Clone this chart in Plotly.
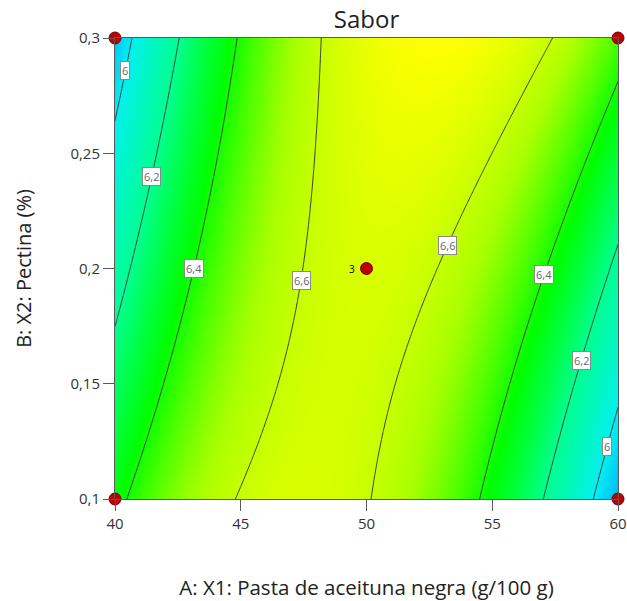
import numpy as np
import plotly.graph_objects as go

# Fitted quadratic model for Sabor in coded factors
# A = (X1 - 50) / 10,  B = (X2 - 0.2) / 0.1
coef_names = ["b0", "A", "B", "AB", "A2", "B2"]
coef_values = [6.634, 0.0135, 0.0295, 0.2535, -0.477, 0.0]

# Factor ranges
x1_range = [40, 60]
x2_range = [0.1, 0.3]

# Design points (factorial corners + centre replicates)
design_x1 = [40, 60, 40, 60, 50]
design_x2 = [0.1, 0.1, 0.3, 0.3, 0.2]
design_reps = [1, 1, 1, 1, 3]

# Contour levels and where their labels sit (X2 value, branch side)
label_levels = [6.0, 6.2, 6.4, 6.6, 6.6, 6.4, 6.2, 6.0]
label_x2 = [0.2857, 0.240, 0.2002, 0.195, 0.210, 0.1976, 0.160, 0.1226]
label_side = ["left", "left", "left", "left", "right", "right", "right", "right"]

C = dict(zip(coef_names, coef_values))


def model(x1, x2):
    a = (x1 - 50) / 10
    b = (x2 - 0.2) / 0.1
    return (C["b0"] + C["A"] * a + C["B"] * b + C["AB"] * a * b
            + C["A2"] * a ** 2 + C["B2"] * b ** 2)


def solve_x1(level, x2, side):
    b = (x2 - 0.2) / 0.1
    qa = C["A2"]
    qb = C["A"] + C["AB"] * b
    qc = C["b0"] + C["B"] * b + C["B2"] * b ** 2 - level
    disc = np.sqrt(qb ** 2 - 4 * qa * qc)
    roots = sorted([(-qb + disc) / (2 * qa), (-qb - disc) / (2 * qa)])
    a = roots[0] if side == "left" else roots[1]
    return 50 + 10 * a


gx = np.linspace(x1_range[0], x1_range[1], 241)
gy = np.linspace(x2_range[0], x2_range[1], 241)
GX, GY = np.meshgrid(gx, gy)
Z = model(GX, GY)

zmin, zmax = 5.85, 6.70
stops = [(5.85, "#00a0ff"), (6.0, "#00f0f0"), (6.2, "#00ff90"),
         (6.38, "#00ff00"), (6.55, "#a8ff00"), (6.70, "#ffff00")]
colorscale = [[(v - zmin) / (zmax - zmin), c] for v, c in stops]

fig = go.Figure()

fig.add_trace(go.Contour(
    x=gx, y=gy, z=Z,
    colorscale=colorscale, zmin=zmin, zmax=zmax,
    contours=dict(start=6.0, end=6.6, size=0.2, coloring="heatmap",
                  showlabels=False),
    line=dict(color="#3c3c3c", width=1),
    showscale=False, hoverinfo="skip",
))

fig.add_trace(go.Scatter(
    x=design_x1, y=design_x2, mode="markers",
    marker=dict(size=12, color="#c00000", line=dict(color="#6a0000", width=1)),
    cliponaxis=False, showlegend=False,
))

# Replicate count beside the centre point
rep_x = [x for x, r in zip(design_x1, design_reps) if r > 1]
rep_y = [y for y, r in zip(design_x2, design_reps) if r > 1]
rep_t = [str(r) for r in design_reps if r > 1]
for x, y, t in zip(rep_x, rep_y, rep_t):
    fig.add_annotation(x=x, y=y, text=t, showarrow=False, xshift=-15,
                       font=dict(size=10, color="#000000", family="Open Sans"))

for lev, y2, side in zip(label_levels, label_x2, label_side):
    txt = f"{lev:.1f}".rstrip("0").rstrip(".").replace(".", ",")
    fig.add_annotation(
        x=solve_x1(lev, y2, side), y=y2, text=txt, showarrow=False,
        bgcolor="#ffffff", bordercolor="#8a8a8a", borderwidth=1, borderpad=1,
        font=dict(size=11, color="#666666", family="Open Sans"),
    )

axis_common = dict(
    showgrid=False, zeroline=False, showline=True, mirror=True,
    linecolor="#5a5a5a", linewidth=1, ticks="outside", tickcolor="#5a5a5a",
    ticklen=11, automargin=False,
    tickfont=dict(size=15, color="#333333", family="Open Sans"),
)

fig.update_layout(
    width=627, height=601,
    margin=dict(l=115, r=9, t=38, b=102),
    paper_bgcolor="#ffffff", plot_bgcolor="#ffffff",
    separators=", ",
    title=dict(text="Sabor", x=(115 + 618) / 2 / 627, xanchor="center",
               y=1 - 20 / 601, yanchor="middle",
               font=dict(size=24, color="#222222", family="Open Sans")),
    xaxis=dict(range=x1_range, tickvals=[40, 45, 50, 55, 60],
               title=dict(text="A: X1: Pasta de aceituna negra (g/100 g)",
                          font=dict(size=20.5, color="#222222", family="Open Sans"),
                          standoff=50),
               **axis_common),
    yaxis=dict(range=x2_range, tickvals=[0.1, 0.15, 0.2, 0.25, 0.3],
               title=dict(text="B: X2: Pectina (%)",
                          font=dict(size=20, color="#222222", family="Open Sans"),
                          standoff=33),
               **axis_common),
)

fig.write_html("out.html")
